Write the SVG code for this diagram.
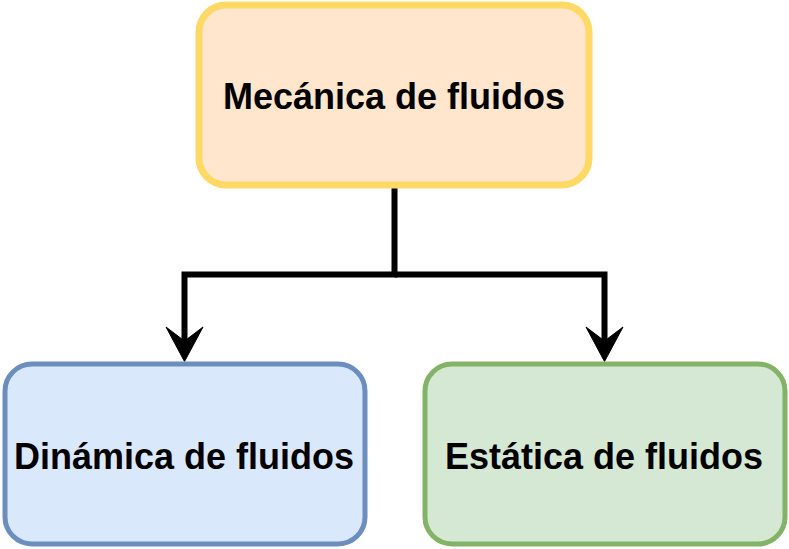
<svg xmlns="http://www.w3.org/2000/svg" width="789" height="549" viewBox="0 0 789 549">
<style>
.t{font-family:"Liberation Sans",Arial,sans-serif;font-weight:bold;font-size:36px;text-anchor:middle;dominant-baseline:central;fill:#000}
.e{fill:none;stroke:#000;stroke-width:6}
.h{fill:#000;stroke:#000;stroke-width:1}
</style>
<rect width="789" height="549" fill="#fff"/>
<g id="connectors">
<path class="e" d="M394.5 188 V274.5 H184.5 V345"/>
<path class="e" d="M394.5 274.5 H604.5 V345"/>
<path class="h" d="M184.5 361.5 L166 327 L184.5 341 L203 327 Z"/>
<path class="h" d="M604.5 361.5 L586 327 L604.5 341 L623 327 Z"/>
</g>
<g id="n1">
<rect x="199" y="5" width="390" height="180" rx="27" fill="#FFE6CC" stroke="#FFD966" stroke-width="7"/>
<text class="t" x="394" y="96">Mecánica de fluidos</text>
</g>
<g id="n2">
<rect x="5" y="364" width="360" height="180" rx="27" fill="#DAE8FC" stroke="#6C8EBF" stroke-width="5"/>
<text class="t" x="184" y="456">Dinámica de fluidos</text>
</g>
<g id="n3">
<rect x="425" y="364" width="360" height="180" rx="27" fill="#D5E8D4" stroke="#82B366" stroke-width="5"/>
<text class="t" x="604" y="456">Estática de fluidos</text>
</g>
</svg>
